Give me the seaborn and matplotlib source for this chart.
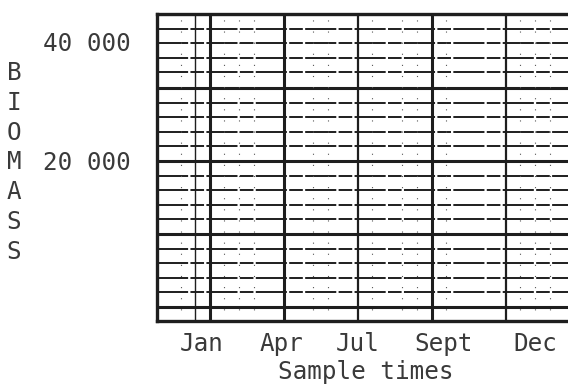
import matplotlib
matplotlib.use("Agg")
import matplotlib.pyplot as plt
import seaborn as sns
import pandas as pd
import numpy as np

# ---- data ----
months = ["Jan", "Apr", "Jul", "Sept", "Dec"]
month_pos = [-0.10, 0.97, 2.0, 3.16, 4.40]          # label positions (x units)
y_ticks = [40000, 20000]
y_tick_labels = ["40 000", "20 000"]
ylabel_letters = list("BIOMASS")
xlabel = "Sample times"

# grid levels of the recording sheet (value units)
thick_levels = [44600, 32220, 20000, 7780, -4440]
thin_levels = [42150, 39700, 37260, 34810,
               29770, 27330, 24890, 22440,
               17560, 15110, 12670, 10220,
               5340, 2890, 450, -2000]
thick_vlines = [0.0, 1.01, 3.0]
medium_vlines = [2.0, 4.0]
thin_vlines = [-0.19]
dotted_vlines = [-0.38, 0.2, 0.4, 0.6, 1.4, 1.6, 2.2, 2.6, 2.8, 3.2, 4.2, 4.4, 4.6]

XMIN, XMAX = -0.71, 4.92
YMIN, YMAX = -6780, 44600

sns.set_style("white")
plt.rcParams["font.family"] = ["DejaVu Sans Mono", "DejaVu Sans"]

fig = plt.figure(figsize=(5.68, 3.89), dpi=100)
ax = fig.add_axes([157 / 568, 1 - 321 / 389, 1 - 157 / 568 + 0.01, (321 - 14) / 389])

ink = "#1e1e1e"
txt = "#3a3a3a"

def hlines_df(levels):
    rows = []
    for i, lv in enumerate(levels):
        rows.append({"x": XMIN, "y": lv, "u": i})
        rows.append({"x": XMAX, "y": lv, "u": i})
    return pd.DataFrame(rows)

def vlines_df(xs):
    rows = []
    for i, xv in enumerate(xs):
        rows.append({"x": xv, "y": YMIN, "u": i})
        rows.append({"x": xv, "y": YMAX, "u": i})
    return pd.DataFrame(rows)

# thin dashed horizontal lines
sns.lineplot(data=hlines_df(thin_levels), x="x", y="y", units="u", estimator=None,
             color=ink, lw=1.4, ax=ax, sort=False)
for l in ax.lines:
    l.set_dashes([16, 1.2, 7, 1.2])
# thick horizontal lines
sns.lineplot(data=hlines_df(thick_levels), x="x", y="y", units="u", estimator=None,
             color=ink, lw=2.2, ax=ax, sort=False)
# vertical lines
sns.lineplot(data=vlines_df(dotted_vlines), x="x", y="y", units="u", estimator=None,
             color="#555555", lw=0.8, ax=ax, sort=False, orient="y")
m = len(ax.lines)
for l in ax.lines[m - len(dotted_vlines):]:
    l.set_linestyle((0, (1, 9)))
sns.lineplot(data=vlines_df(thin_vlines), x="x", y="y", units="u", estimator=None,
             color=ink, lw=1.0, ax=ax, sort=False, orient="y")
sns.lineplot(data=vlines_df(medium_vlines), x="x", y="y", units="u", estimator=None,
             color=ink, lw=1.6, ax=ax, sort=False, orient="y")
sns.lineplot(data=vlines_df(thick_vlines), x="x", y="y", units="u", estimator=None,
             color=ink, lw=2.2, ax=ax, sort=False, orient="y")

ax.set_xlim(XMIN, XMAX)
ax.set_ylim(YMIN, YMAX)
ax.set_xticks(month_pos)
ax.set_xticklabels(months, fontsize=17.5, color=txt)
ax.set_yticks(y_ticks)
ax.set_yticklabels(y_tick_labels, fontsize=17.5, color=txt)
ax.tick_params(axis="both", length=0)
ax.tick_params(axis="y", pad=19)
ax.tick_params(axis="x", pad=8)
ax.set_xlabel(xlabel, fontsize=17.5, color=txt, labelpad=2.5)
ax.set_ylabel("")

for side in ["left", "bottom", "top"]:
    ax.spines[side].set_visible(True)
    ax.spines[side].set_color(ink)
    ax.spines[side].set_linewidth(2.4)
ax.spines["right"].set_visible(False)

# vertically stacked axis title
for i, ch in enumerate(ylabel_letters):
    ypx = 73 + i * 29.8
    fig.text(14 / 568, 1 - ypx / 389, ch, fontsize=17.5, color=txt,
             ha="center", va="center")

fig.savefig("out.png", dpi=100)
